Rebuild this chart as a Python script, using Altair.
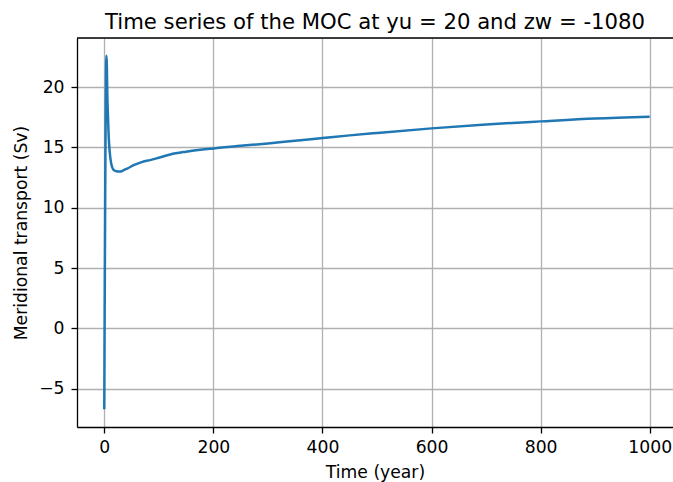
import altair as alt
import pandas as pd

# Time (year) and MOC values (Sv)
time_year = [0, 4, 6, 8, 10, 13, 16, 20, 25, 29, 35, 42, 55, 70, 84, 100, 121, 150,
             200, 250, 300, 350, 400, 450, 500, 600, 700, 800, 900, 1000]
moc_sv = [-6.7, 22.6, 18.6, 16.0, 14.6, 13.6, 13.2, 13.05, 13.0, 13.0, 13.1, 13.25,
          13.55, 13.8, 13.95, 14.15, 14.42, 14.65, 14.92, 15.13, 15.33, 15.56, 15.78,
          16.0, 16.2, 16.58, 16.9, 17.16, 17.4, 17.55]

x_ticks = [0, 200, 400, 600, 800, 1000]
y_ticks = [-5, 0, 5, 10, 15, 20]

df = pd.DataFrame({"t": time_year, "v": moc_sv})

FONT = "DejaVu Sans"
FS = 17.2
W, H = 596, 389

common_axis = dict(
    grid=True, gridColor="#b0b0b0", gridWidth=1.3,
    domainColor="black", domainWidth=1.3,
    tickColor="black", tickSize=6, tickWidth=1.3,
    labelFont=FONT, labelFontSize=FS, labelColor="black",
    titleFont=FONT, titleFontSize=FS, titleFontWeight="normal", titleColor="black",
)

line = alt.Chart(df).mark_line(color="#1f77b4", strokeWidth=2.5, interpolate="monotone", clip=True).encode(
    x=alt.X("t:Q", scale=alt.Scale(domain=[-50, 1042.67], nice=False, zero=False),
            axis=alt.Axis(values=x_ticks, title="Time (year)", format="d", labelPadding=5,
                          titleY=50, titleBaseline="alphabetic", **common_axis)),
    y=alt.Y("v:Q", scale=alt.Scale(domain=[-8.17, 24.07], nice=False, zero=False),
            axis=alt.Axis(values=y_ticks, title="Meridional transport (Sv)", labelPadding=7,
                          titleX=-51, titleY=H / 2, titleAngle=270, titleBaseline="alphabetic",
                          titleAlign="center", **common_axis)),
)

top_spine = alt.Chart(pd.DataFrame({"a": [0]})).mark_rule(color="black", strokeWidth=1.3).encode(
    x=alt.value(0), x2=alt.value(W), y=alt.value(0)
)

chart = (line + top_spine).properties(
    width=W, height=H,
    title=alt.TitleParams("Time series of the MOC at yu = 20 and zw = -1080",
                          font=FONT, fontSize=21.2, fontWeight="normal", color="black",
                          anchor="middle", offset=4),
    autosize=alt.AutoSizeParams(type="none"),
    padding={"left": 77, "top": 38, "right": 0, "bottom": 55},
).configure_view(stroke=None).configure(background="white")

chart.save("out.html", embed_options={"renderer": "svg", "actions": False})
